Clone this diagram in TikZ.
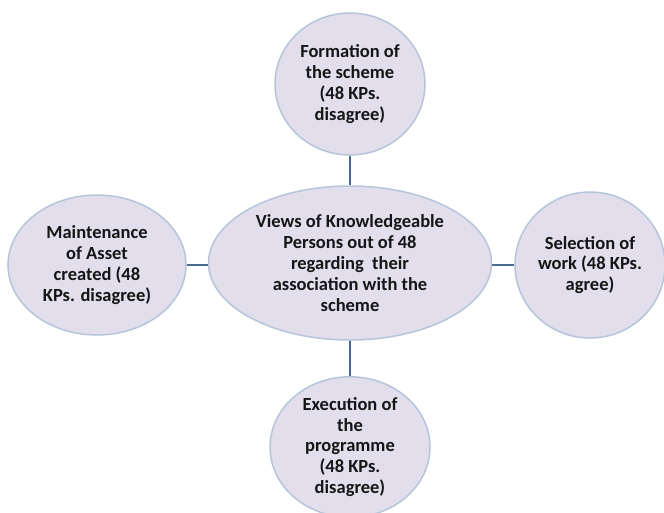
\documentclass[tikz,border=0pt]{standalone}
\usepackage{fontspec}
\setmainfont{Carlito}
\usetikzlibrary{shapes.geometric}
\definecolor{fillc}{HTML}{E2DEEC}
\definecolor{bordc}{HTML}{B7C4DA}
\definecolor{linkc}{HTML}{4A6A94}
\definecolor{textc}{HTML}{151515}
\begin{document}
\begin{tikzpicture}[x=1pt,y=-1pt,
  bubble/.style={ellipse, draw=bordc, line width=1.5pt, fill=fillc, inner sep=0pt,
    align=center, text=textc, font=\bfseries\fontsize{18.5}{20.8}\selectfont},
  link/.style={draw=linkc, line width=2.2pt}]
\clip (0,0) rectangle (664,512);
\node[bubble, minimum width=283pt, minimum height=154pt] (c) at (350,263)
  {Views of Knowledgeable\\Persons out of 48\\regarding\ \ their\\association with the\\scheme};
\node[bubble, minimum width=150pt, minimum height=142pt] (t) at (350,84)
  {Formation of\\the scheme\\(48 KPs.\\disagree)};
\node[bubble, minimum width=178pt, minimum height=140pt] (l) at (97,265)
  {Maintenance\\of Asset\\created (48\\KPs. disagree)};
\node[bubble, minimum width=150pt, minimum height=146pt] (r) at (590,265)
  {Selection of\\work (48 KPs.\\agree)};
\node[bubble, minimum width=160pt, minimum height=136pt] (b) at (350,447)
  {Execution of\\the\\programme\\(48 KPs.\\disagree)};
\draw[link] (t.south) -- (c.north);
\draw[link] (c.south) -- (b.north);
\draw[link] (l.east) -- (l.east -| c.west);
\draw[link] (r.west) -- (r.west -| c.east);
\end{tikzpicture}
\end{document}
